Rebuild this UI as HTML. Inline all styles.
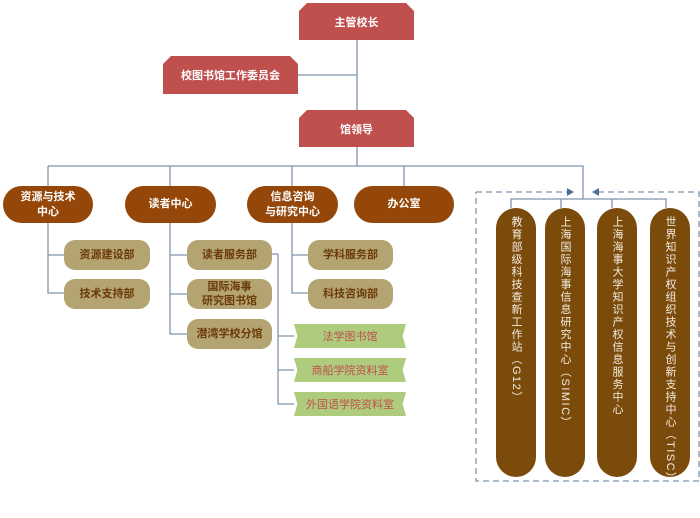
<!DOCTYPE html>
<html><head><meta charset="utf-8"><style>
body{margin:0;width:700px;height:518px;background:#fff;position:relative;overflow:hidden;font-family:"Liberation Sans","Noto Sans CJK SC",sans-serif;}
.b{position:absolute;display:flex;align-items:center;justify-content:center;text-align:center;font-weight:bold;box-sizing:border-box;}
.red{background:#c0504d;color:#fff;font-size:11px;clip-path:polygon(8px 0,calc(100% - 8px) 0,100% 8px,100% 100%,0 100%,0 8px);}
.br{background:#944709;color:#fff;border-radius:19px;font-size:11px;line-height:15px;}
.kh{background:#b3a472;color:#6b3a08;border-radius:11px;font-size:11px;line-height:14px;}
.gr{background:#aecb7e;color:#c0504d;font-weight:normal;font-size:11px;clip-path:polygon(0 0,100% 0,97% 50%,100% 100%,0 100%,3% 50%);}
.v{background:#7b4b0c;color:#f4ede0;border-radius:20px;font-size:11px;line-height:12px;writing-mode:vertical-rl;text-orientation:mixed;justify-content:flex-start;align-items:center;padding-top:8px;font-weight:normal;letter-spacing:1.5px;white-space:nowrap;}
svg{position:absolute;left:0;top:0}
</style></head><body>
<svg width="700" height="518">
<g stroke="#7f95ad" stroke-width="1.3" fill="none">
<path d="M357 40V110M298 75H357M357 147V166M48 166H583V199M48 166V186M170 166V186M292 166V186M404 166V186"/>
<path d="M511 208V199H666V208M561 199V208M612 199V208"/>
<path d="M48 223V293H64M48 255H64M170 223V334H187M170 255H187M170 294H187M292 223V293H308M292 255H308"/>
<path d="M272 254H278V404H294M278 336H294M278 370H294"/>
<path d="M476 192H568M598 192H699V481H476V192" stroke-dasharray="6,4"/>
</g>
<path d="M574 192L567 188V196Z M592 192L599 188V196Z" fill="#4f6d96"/>
</svg>
<div class="b red" style="left:299px;top:3px;width:115px;height:37px">主管校长</div>
<div class="b red" style="left:163px;top:56px;width:135px;height:38px">校图书馆工作委员会</div>
<div class="b red" style="left:299px;top:110px;width:115px;height:37px">馆领导</div>
<div class="b br" style="left:3px;top:186px;width:90px;height:37px">资源与技术<br>中心</div>
<div class="b br" style="left:125px;top:186px;width:91px;height:37px">读者中心</div>
<div class="b br" style="left:247px;top:186px;width:91px;height:37px">信息咨询<br>与研究中心</div>
<div class="b br" style="left:354px;top:186px;width:100px;height:37px">办公室</div>
<div class="b kh" style="left:64px;top:240px;width:86px;height:30px">资源建设部</div>
<div class="b kh" style="left:64px;top:279px;width:86px;height:30px">技术支持部</div>
<div class="b kh" style="left:187px;top:240px;width:85px;height:30px">读者服务部</div>
<div class="b kh" style="left:187px;top:279px;width:85px;height:30px">国际海事<br>研究图书馆</div>
<div class="b kh" style="left:187px;top:319px;width:85px;height:30px">潜湾学校分馆</div>
<div class="b kh" style="left:308px;top:240px;width:85px;height:30px">学科服务部</div>
<div class="b kh" style="left:308px;top:279px;width:85px;height:30px">科技咨询部</div>
<div class="b gr" style="left:294px;top:324px;width:112px;height:24px">法学图书馆</div>
<div class="b gr" style="left:294px;top:358px;width:112px;height:24px">商船学院资料室</div>
<div class="b gr" style="left:294px;top:392px;width:112px;height:24px">外国语学院资料室</div>
<div class="b v" style="left:496px;top:208px;width:40px;height:269px">教育部级科技查新工作站（G12）</div>
<div class="b v" style="left:545px;top:208px;width:40px;height:269px">上海国际海事信息研究中心（SIMIC）</div>
<div class="b v" style="left:597px;top:208px;width:40px;height:269px">上海海事大学知识产权信息服务中心</div>
<div class="b v" style="left:650px;top:208px;width:40px;height:269px">世界知识产权组织技术与创新支持中心（TISC）</div>
</body></html>
